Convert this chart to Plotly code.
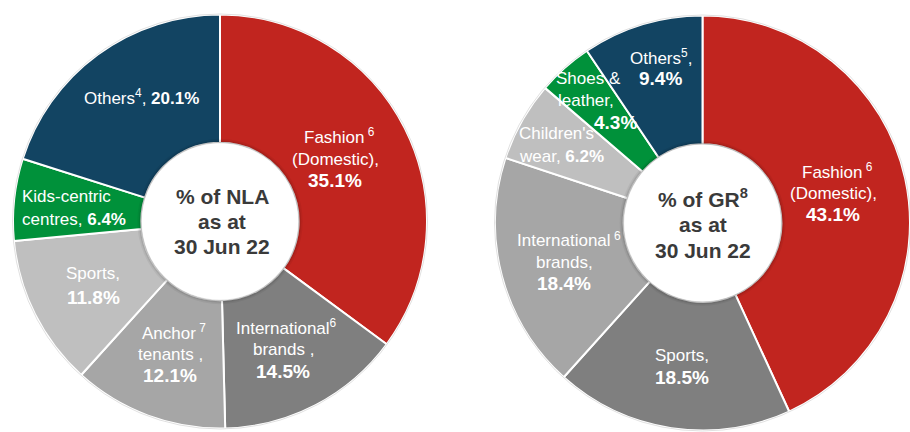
import plotly.graph_objects as go

W, H = 910, 432

# ---------------- data ----------------
nla_categories = ["Fashion (Domestic)", "International brands", "Anchor tenants",
                  "Sports", "Kids-centric centres", "Others"]
nla_values = [35.1, 14.5, 12.1, 11.8, 6.4, 20.1]
nla_colors = ["#C1251F", "#7F7F7F", "#A6A6A6", "#BFBFBF", "#00913A", "#124462"]

gr_categories = ["Fashion (Domestic)", "Sports", "International brands",
                 "Children's wear", "Shoes & leather", "Others"]
gr_values = [43.1, 18.5, 18.4, 6.2, 4.3, 9.4]
gr_colors = ["#C1251F", "#7F7F7F", "#A6A6A6", "#BFBFBF", "#00913A", "#124462"]

nla_title = ["% of NLA", "as at", "30 Jun 22"]
gr_title = ["% of GR<sup>8</sup>", "as at", "30 Jun 22"]

FONT = "Arial, Liberation Sans, sans-serif"


def pct(v):
    return f"<b>{v:.1f}%</b>"


# pie geometry (pixel centre, radius)
LEFT = dict(cx=220, cy=221.5, r=207)
RIGHT = dict(cx=702.5, cy=223, r=207.5)
HOLE = 0.38


def domain(g):
    x0 = max(0, (g["cx"] - g["r"]) / W)
    x1 = min(1, (g["cx"] + g["r"]) / W)
    cyb = H - g["cy"]
    y0 = max(0, (cyb - g["r"]) / H)
    y1 = min(1, (cyb + g["r"]) / H)
    return dict(x=[x0, x1], y=[y0, y1])


fig = go.Figure()
for vals, cats, cols, g in [(nla_values, nla_categories, nla_colors, LEFT),
                            (gr_values, gr_categories, gr_colors, RIGHT)]:
    fig.add_trace(go.Pie(
        values=vals, labels=cats, sort=False, direction="clockwise", rotation=0,
        hole=HOLE, textinfo="none", showlegend=False,
        marker=dict(colors=cols, line=dict(color="white", width=2)),
        domain=domain(g),
    ))

shapes = []
for g in (LEFT, RIGHT):
    cyb = H - g["cy"]
    rin = g["r"] * HOLE
    # soft outer edge
    ro = g["r"] + 0.5
    shapes.append(dict(type="circle", xref="paper", yref="paper",
                       x0=(g["cx"] - ro) / W, x1=(g["cx"] + ro) / W,
                       y0=(cyb - ro) / H, y1=(cyb + ro) / H,
                       line=dict(color="rgba(0,0,0,0.12)", width=1), layer="above"))
    for dr, col in [(4, "rgba(0,0,0,0.05)"), (2.5, "rgba(0,0,0,0.08)"), (1.2, "rgba(0,0,0,0.10)")]:
        r = rin + dr
        shapes.append(dict(type="circle", xref="paper", yref="paper",
                           x0=(g["cx"] - r) / W, x1=(g["cx"] + r) / W,
                           y0=(cyb - r) / H, y1=(cyb + r) / H,
                           fillcolor=col, line=dict(width=0), layer="above"))
    shapes.append(dict(type="circle", xref="paper", yref="paper",
                       x0=(g["cx"] - rin) / W, x1=(g["cx"] + rin) / W,
                       y0=(cyb - rin) / H, y1=(cyb + rin) / H,
                       fillcolor="white", line=dict(color="rgba(0,0,0,0.10)", width=1),
                       layer="above"))

REG, BIG, CEN = 17, 19, 21
ann = []


def add(text, x, y, size=REG, anchor="center", color="white"):
    ann.append(dict(text=text, x=x / W, y=1 - y / H, xref="paper", yref="paper",
                    xanchor=anchor, yanchor="middle", showarrow=False,
                    font=dict(family=FONT, size=size, color=color)))


# ---- left pie labels ----
add("Fashion<sup> 6</sup>", 339, 136)
add("(Domestic),", 335, 159)
add(pct(nla_values[0]), 335, 181, BIG)
add("International<sup>6</sup>", 286, 327)
add("brands ,", 283, 349)
add(pct(nla_values[1]), 283, 371, BIG)
add("Anchor<sup> 7</sup>", 174, 332)
add("tenants ,", 170, 354)
add(pct(nla_values[2]), 170, 375, BIG)
add("Sports,", 93, 273)
add(pct(nla_values[3]), 93, 297, BIG)
add("Kids-centric", 20, 196, anchor="left")
add("centres, " + pct(nla_values[4]), 20, 219, anchor="left")
add("Others<sup>4</sup>, " + pct(nla_values[5]), 82, 97, anchor="left")
for i, t in enumerate(nla_title):
    add(f"<b>{t}</b>", LEFT["cx"] + 2, 196 + 25 * i, CEN, color="#3A3A3A")

# ---- right pie labels ----
add("Fashion<sup> 6</sup>", 837, 171)
add("(Domestic),", 833, 193)
add(pct(gr_values[0]), 833, 215, BIG)
add("Sports,", 682, 355)
add(pct(gr_values[1]), 682, 377, BIG)
add("International", 564, 240)
add("<sup>6</sup>", 617, 236)
add("brands,", 564, 262)
add(pct(gr_values[2]), 564, 283, BIG)
add("Children's", 517, 134, anchor="left")
add("wear, " + pct(gr_values[3]), 517, 156, anchor="left")
add("Shoes &", 588, 79)
add("leather,", 586, 100)
add(pct(gr_values[4]), 615, 122, BIG)
add("Others<sup>5</sup>,", 661, 57)
add(pct(gr_values[5]), 660, 79, BIG)
for i, t in enumerate(gr_title):
    add(f"<b>{t}</b>", RIGHT["cx"], 198 + 26 * i, CEN, color="#3A3A3A")

fig.update_layout(
    width=W, height=H, margin=dict(l=0, r=0, t=0, b=0),
    paper_bgcolor="white", plot_bgcolor="white",
    shapes=shapes, annotations=ann,
    font=dict(family=FONT),
)

fig.write_html("out.html", config={"displayModeBar": False})
